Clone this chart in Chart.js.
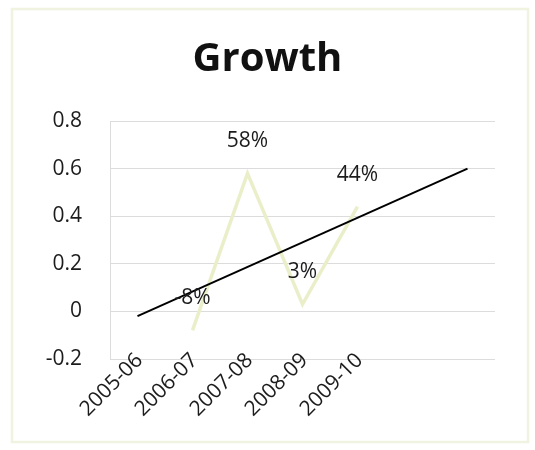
<!DOCTYPE html>
<html>
<head>
<meta charset="utf-8">
<title>Growth</title>
<script src="https://cdn.jsdelivr.net/npm/chart.js@4"></script>
<style>
  html, body { margin: 0; padding: 0; background: #ffffff; }
  #wrap { width: 535px; height: 450px; }
</style>
</head>
<body>
<div id="wrap"><canvas id="growthChart" width="535" height="450"></canvas></div>
<script>
// Financial years (two extra slots for the forecast part of the trend line)
const years = ["2005-06", "2006-07", "2007-08", "2008-09", "2009-10", "", ""];
// Year on year growth
const growth = [null, -0.08, 0.58, 0.03, 0.44, null, null];
// Linear trend, start and end points only
const trend = [-0.02, null, null, null, null, null, 0.60];

const fontFamily = "'Open Sans', sans-serif";
const textColor = "#1c1c1c";

// Thin frame round the whole chart
const framePlugin = {
    id: "frame",
    beforeDraw(chart) {
        const ctx = chart.ctx;
        ctx.save();
        ctx.fillStyle = "#ffffff";
        ctx.fillRect(0, 0, chart.width, chart.height);
        ctx.strokeStyle = "#f0f3e0";
        ctx.lineWidth = 2.5;
        ctx.strokeRect(12, 9, 516, 433);
        ctx.restore();
    }
};

// Slanted year labels, ending right at the axis line
// (drawn here because the built-in ticks get clipped to the axis box)
const yearLabels = {
    id: "yearLabels",
    afterDraw(chart) {
        const ctx = chart.ctx;
        const xs = chart.scales.x;
        const base = chart.chartArea.bottom - 2;
        ctx.save();
        ctx.font = "21px " + fontFamily;
        ctx.fillStyle = textColor;
        ctx.textAlign = "right";
        ctx.textBaseline = "middle";
        years.forEach((y, i) => {
            if (!y) return;
            ctx.save();
            ctx.translate(xs.getPixelForValue(i) + 2, base);
            ctx.rotate(-Math.PI / 4);
            ctx.fillText(y, 0, 0);
            ctx.restore();
        });
        ctx.restore();
    }
};

// Percent labels above the growth points
const valueLabels = {
    id: "valueLabels",
    afterDatasetsDraw(chart) {
        const ctx = chart.ctx;
        const meta = chart.getDatasetMeta(0);
        ctx.save();
        ctx.font = "21px " + fontFamily;
        ctx.fillStyle = textColor;
        ctx.textAlign = "center";
        ctx.textBaseline = "middle";
        meta.data.forEach((pt, i) => {
            const v = growth[i];
            if (v === null) return;
            ctx.fillText(Math.round(v * 100) + "%", pt.x, pt.y - 32);
        });
        ctx.restore();
    }
};

const ctx = document.getElementById("growthChart").getContext("2d");

new Chart(ctx, {
    type: "line",
    data: {
        labels: years,
        datasets: [
            {
                label: "Growth",
                data: growth,
                borderColor: "#eaefca",
                borderWidth: 3.5,
                pointRadius: 0,
                fill: false,
                tension: 0,
                order: 1
            },
            {
                label: "Trend",
                data: trend,
                borderColor: "#000000",
                borderWidth: 2,
                pointRadius: 0,
                spanGaps: true,
                fill: false,
                order: 0
            }
        ]
    },
    options: {
        responsive: false,
        animation: false,
        layout: {
            padding: { left: 40, right: 40, top: 0, bottom: 0 }
        },
        plugins: {
            legend: { display: false },
            tooltip: { enabled: false },
            title: {
                display: true,
                text: "Growth",
                color: "#111111",
                font: { family: fontFamily, size: 40, weight: "bold" },
                padding: { top: 36, bottom: 37 }
            }
        },
        scales: {
            x: {
                offset: true,
                grid: { display: false, drawTicks: false },
                border: { display: false },
                ticks: { display: false, autoSkip: false },
                afterFit(scale) { scale.height = 91; }
            },
            y: {
                min: -0.2,
                max: 0.8,
                ticks: {
                    stepSize: 0.2,
                    color: textColor,
                    font: { family: fontFamily, size: 21 },
                    padding: 28,
                    callback: v => String(Number(v.toFixed(1)))
                },
                grid: { color: "#dcdcdc", lineWidth: 1, drawTicks: false },
                border: { display: true, color: "#dcdcdc" },
                afterFit(scale) { scale.width = 70; }
            }
        }
    },
    plugins: [framePlugin, valueLabels, yearLabels]
});
</script>
</body>
</html>
